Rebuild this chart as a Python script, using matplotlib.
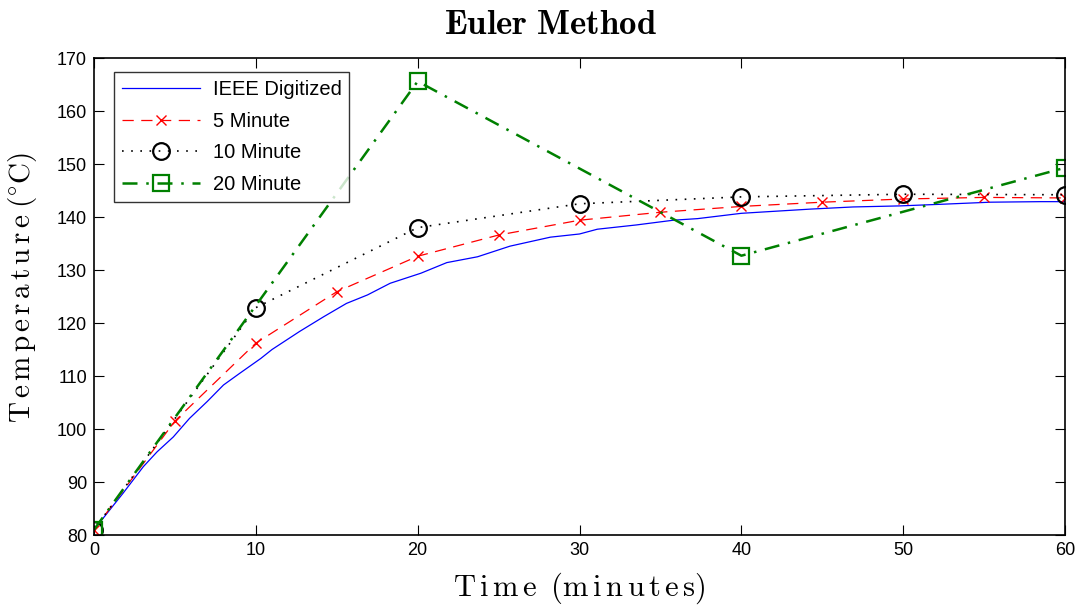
import sys

import numpy as np
import matplotlib

matplotlib.use("Agg")
import matplotlib.pyplot as plt

ieee_t = [0, 1.8, 3.05, 3.9, 4.9, 5.9, 7.0, 8.0, 9.0, 10.3, 11.0, 12.7, 14.2,
          15.6, 16.9, 18.3, 20.2, 21.8, 23.7, 25.7, 28.2, 30.0, 31.1, 33.5,
          35.8, 37.3, 40.0, 41.6, 44.3, 46.9, 49.8, 52.3, 55.4, 58.5, 60.0]
ieee_temp = [81.0, 87.9, 92.9, 95.7, 98.5, 102.0, 105.2, 108.3, 110.5, 113.3,
             115.0, 118.4, 121.2, 123.7, 125.3, 127.5, 129.4, 131.4, 132.5,
             134.5, 136.2, 136.8, 137.7, 138.5, 139.4, 139.7, 140.7, 141.0,
             141.5, 141.9, 142.1, 142.4, 142.8, 142.9, 142.9]

t5 = [0, 5, 10, 15, 20, 25, 30, 35, 40, 45, 50, 55, 60]
temp5 = [81.0, 101.5, 116.2, 125.9, 132.6, 136.6, 139.4, 140.9, 142.0, 142.8,
         143.4, 143.7, 143.6]

t10 = [0, 10, 20, 30, 40, 50, 60]
temp10 = [81.0, 122.9, 138.0, 142.5, 143.8, 144.3, 144.2]

t20 = [0, 20, 40, 60]
temp20 = [81.0, 165.6, 132.7, 149.3]


def main() -> int:
    plt.rcParams["mathtext.fontset"] = "cm"
    plt.rcParams["font.family"] = ["Liberation Sans", "DejaVu Sans"]

    fig = plt.figure(figsize=(10.79, 6.07), dpi=100)
    ax = fig.add_axes([0.0871, 0.1186, 0.9, 0.7858])

    ax.plot(ieee_t, ieee_temp, color="blue", lw=0.9, label="IEEE Digitized")
    ax.plot(t5, temp5, color="red", ls=(0, (9, 6)), lw=0.9, marker="x",
            markersize=7, markeredgewidth=1.0, label="5 Minute")
    ax.plot(t10, temp10, color="black", ls=(0, (1, 4.5)), lw=1.2, marker="o",
            markersize=12, markerfacecolor="none", markeredgewidth=1.6,
            label="10 Minute")
    ax.plot(t20, temp20, color="#008000", ls=(0, (6, 3.5, 1, 3.5)), lw=1.8,
            marker="s", markersize=12, markerfacecolor="none",
            markeredgewidth=1.6, label="20 Minute")

    ax.set_xlim(0, 60)
    ax.set_ylim(80, 170)
    ax.set_xticks(np.arange(0, 61, 10))
    ax.set_yticks(np.arange(80, 171, 10))
    ax.tick_params(direction="in", top=True, right=True, length=7,
                   width=0.8, labelsize=13, pad=5)
    for sp in ax.spines.values():
        sp.set_linewidth(1.2)

    ax.set_title(r"$\mathbf{Euler\ Method}$", fontsize=25, pad=17, x=0.47)
    ax.set_xlabel(r"$\mathrm{T\,i\,m\,e\;\;(m\,i\,n\,u\,t\,e\,s)}$",
                  fontsize=22, labelpad=8)
    ax.set_ylabel(r"$\mathrm{T\,e\,m\,p\,e\,r\,a\,t\,u\,r\,e\;(^{\circ}C)}$",
                  fontsize=21)
    ax.yaxis.set_label_coords(-0.057, 0.52)

    leg = ax.legend(loc="upper left", bbox_to_anchor=(0.0205, 0.97),
                    fontsize=14.5, frameon=True, fancybox=False,
                    handlelength=3.9, borderpad=0.4, labelspacing=0.62,
                    borderaxespad=0.0, handletextpad=0.6)
    leg.get_frame().set_edgecolor("black")
    leg.get_frame().set_linewidth(1.0)

    fig.savefig("out.png", dpi=100)
    return 0


if __name__ == "__main__":
    sys.exit(main())
